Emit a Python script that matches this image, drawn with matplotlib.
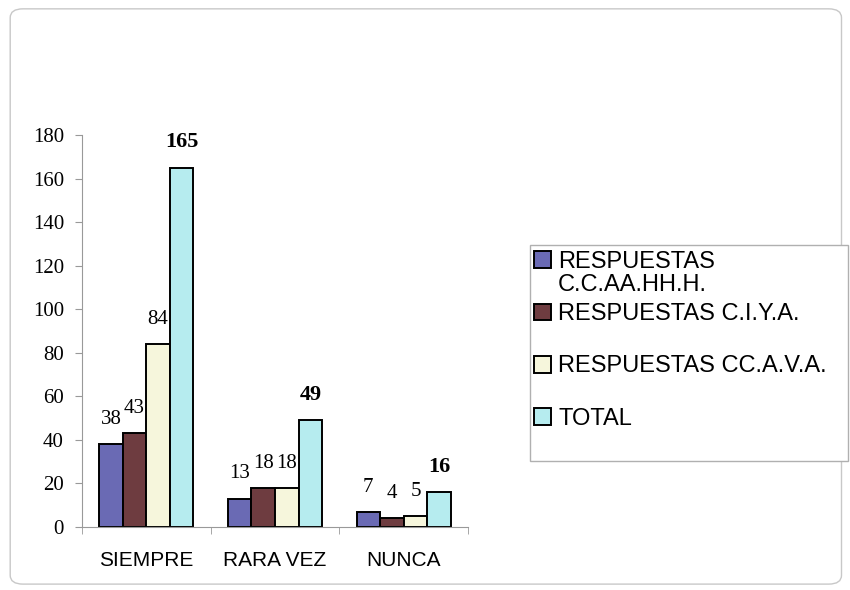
import matplotlib.pyplot as plt
import numpy as np
from matplotlib.patches import FancyBboxPatch, Rectangle

# ==========================================
# DATOS
# ==========================================

categorias = ["SIEMPRE", "RARA VEZ", "NUNCA"]
series = [
    "RESPUESTAS",
    "RESPUESTAS C.I.Y.A.",
    "RESPUESTAS CC.A.V.A.",
    "TOTAL",
]
serie1_linea2 = "C.C.AA.HH.H."
ccaahhh = [38, 13, 7]
ciya = [43, 18, 4]
ccava = [84, 18, 5]
total = [165, 49, 16]

valores = [ccaahhh, ciya, ccava, total]
colores = ["#6a6ab4", "#6e3c40", "#f6f6dc", "#b6ecef"]

W, H = 850, 590

# ==========================================
# FIGURA
# ==========================================

fig = plt.figure(figsize=(8.5, 5.9), dpi=100)
fig.patch.set_facecolor("white")

borde = FancyBboxPatch((0.012, 0.010), 0.978, 0.975,
                       boxstyle="round,pad=0,rounding_size=0.015",
                       transform=fig.transFigure, facecolor="none",
                       edgecolor="#c8c8c8", linewidth=1.0, zorder=0)
fig.patches.append(borde)

ax = fig.add_axes([82 / W, 1 - 527 / H, (468 - 82) / W, (527 - 135) / H])
ax.set_facecolor("none")

x = np.arange(len(categorias))
ancho = 0.183
for i, (vals, col) in enumerate(zip(valores, colores)):
    pos = x + (i - 1.5) * ancho
    ax.bar(pos, vals, width=ancho, color=col, edgecolor="black",
           linewidth=1.4, label=series[i])
    for p, v in zip(pos, vals):
        ax.text(p, v + 7, str(v), ha="center", va="bottom",
                family="Liberation Serif",
                fontsize=16 if i == 3 else 15,
                fontweight="bold" if i == 3 else "normal")

ax.set_xlim(-0.5, 2.5)
ax.set_ylim(0, 180)
ax.set_yticks(range(0, 181, 20))
ax.set_xticks(x)
ax.set_xticklabels(categorias, family="Liberation Sans", fontsize=15)
for t in ax.get_yticklabels():
    t.set_family("Liberation Serif")
    t.set_fontsize(15)

ax.set_xticks([-0.5, 0.5, 1.5, 2.5], minor=True)
ax.tick_params(axis="x", which="major", length=0, pad=17)
ax.tick_params(axis="x", which="minor", length=5, color="#999999")
ax.tick_params(axis="y", length=5, color="#999999", pad=8)

for s in ["top", "right"]:
    ax.spines[s].set_visible(False)
ax.spines["left"].set_color("#999999")
ax.spines["bottom"].set_color("#999999")

# ==========================================
# LEYENDA
# ==========================================

caja = Rectangle((530 / W, 1 - 461 / H), (848 - 530) / W, (461 - 245) / H,
                 transform=fig.transFigure, facecolor="white",
                 edgecolor="#b0b0b0", linewidth=1.0, zorder=1)
fig.patches.append(caja)

leg = fig.legend(loc="upper left", bbox_to_anchor=(534 / W, 1 - 251 / H),
                 prop={"family": "Liberation Sans", "size": 17},
                 frameon=False, handlelength=0.72, handleheight=0.72,
                 handletextpad=0.3, labelspacing=1.28,
                 borderpad=0, borderaxespad=0)
for h in leg.legend_handles:
    h.set_linewidth(1.4)

fig.canvas.draw()
bb = leg.get_texts()[0].get_window_extent()
fig.text(bb.x0 / W, (bb.y0 - 1) / H, serie1_linea2, ha="left", va="top",
         family="Liberation Sans", fontsize=17)

plt.savefig("out.png", dpi=100)
plt.close()
